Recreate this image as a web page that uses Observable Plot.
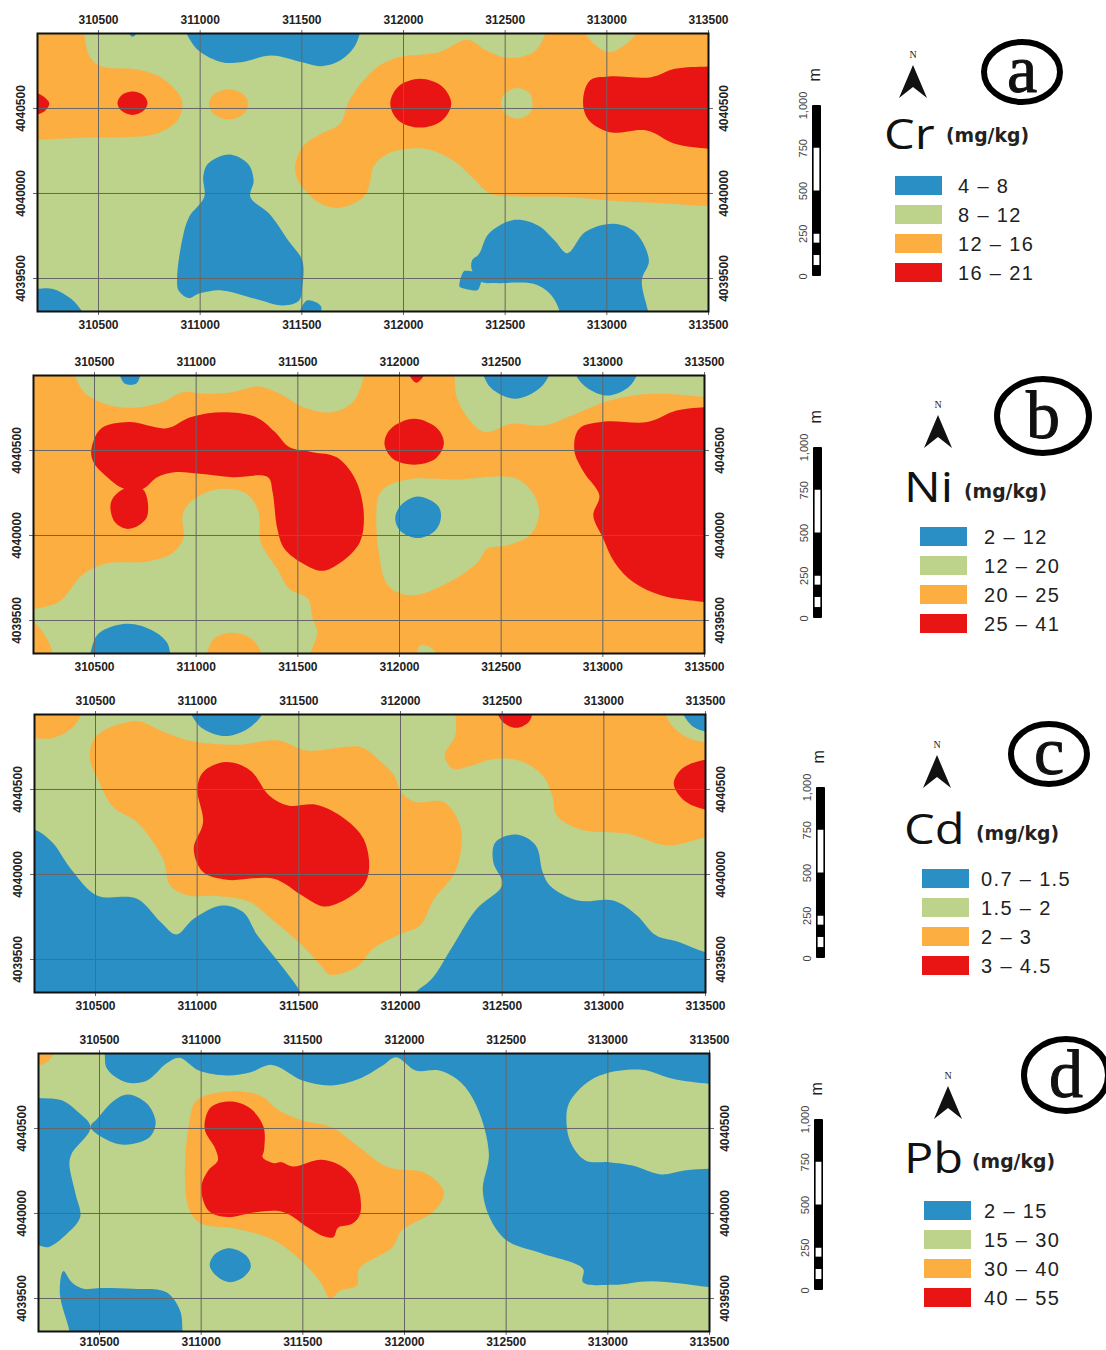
<!DOCTYPE html>
<html><head><meta charset="utf-8">
<script src="https://cdn.jsdelivr.net/npm/d3@7"></script>
<script src="https://cdn.jsdelivr.net/npm/@observablehq/plot@0.6"></script>
<style>
html,body{margin:0;padding:0;background:#fff}
#page{position:relative;width:1106px;height:1350px;overflow:hidden;font-family:"Liberation Sans",Arial,sans-serif}
#page>svg,#page>div{position:absolute}
.sw{position:absolute}
.lab{position:absolute;font-size:20px;letter-spacing:1.35px;color:#222;line-height:20px;white-space:nowrap}
.el{position:absolute;font-family:"Open Sans",sans-serif;font-size:42px;line-height:50px;color:#111;white-space:nowrap;transform:scaleX(1.16);transform-origin:0 0}
.un{position:absolute;font-family:"DejaVu Sans",sans-serif;font-weight:bold;font-size:18.8px;line-height:20px;color:#222;white-space:nowrap}
</style></head><body><div id="page"></div>
<script>
// Map coordinates: easting and northing, stored as metres past these origins
const E0 = 310000, N0 = 4039000;
const eastTicks = [310500, 311000, 311500, 312000, 312500, 313000, 313500];
const northTicks = [4039500, 4040000, 4040500];
const scaleTicks = [0, 250, 500, 750, 1000];
const classColors = ["#2a8fc4", "#bdd28a", "#fcae41", "#e91515"];
const BLUE = 0, GREEN = 1, ORANGE = 2, RED = 3;

const crClasses = ["4 – 8", "8 – 12", "12 – 16", "16 – 21"];
const niClasses = ["2 – 12", "12 – 20", "20 – 25", "25 – 41"];
const cdClasses = ["0.7 – 1.5", "1.5 – 2", "2 – 3", "3 – 4.5"];
const pbClasses = ["2 – 15", "15 – 30", "30 – 40", "40 – 55"];

const whole = [[0,0],[4000,0],[4000,2400],[0,2400]];

const crZones = [
 [GREEN, whole],
 [ORANGE, [[100,2000],[420,2000],[430,1930],[458,1802],[516,1747],[690,1729],[818,1674],[911,1547],[887,1429],[783,1351],[620,1331],[412,1328],[198,1316],[100,1310]]],
 [RED, [[140,1590],[200,1590],[240,1560],[258,1530],[240,1490],[200,1465],[140,1465]]],
 [RED, [[667,1600],[720,1580],[741,1531],[720,1485],[667,1462],[615,1485],[593,1531],[615,1580]]],
 [ORANGE, [[1140,1612],[1210,1585],[1237,1525],[1210,1465],[1140,1437],[1070,1465],[1043,1525],[1070,1585]]],
 [BLUE, [[920,2000],[934,1940],[992,1841],[1108,1772],[1200,1772],[1351,1812],[1502,1772],[1595,1749],[1688,1782],[1757,1860],[1785,1940],[1800,2000]]],
 [BLUE, [[650,1960],[690,1960],[675,1925],[660,1925]]],
 [ORANGE, [[2314,1904],[2407,1841],[2511,1798],[2639,1831],[2700,1950],[2700,2010],[2890,2010],[2890,1950],[3010,1831],[3150,1950],[3150,2010],[3600,2010],[3600,920],[3500,926],[3265,943],[3010,959],[2801,979],[2569,983],[2430,998],[2337,1096],[2245,1194],[2105,1263],[1920,1233],[1850,1155],[1834,1057],[1804,979],[1688,916],[1595,939],[1502,1037],[1467,1135],[1502,1273],[1595,1351],[1688,1410],[1734,1547],[1850,1723],[1966,1798],[2175,1831]]],
 [RED, [[3600,1750],[3500,1747],[3335,1733],[3219,1684],[3010,1688],[2917,1665],[2883,1547],[2906,1439],[3010,1361],[3196,1371],[3335,1292],[3500,1263],[3600,1260]]],
 [GREEN, [[2558,1620],[2620,1590],[2635,1530],[2620,1470],[2558,1440],[2500,1470],[2480,1530],[2500,1590]]],
 [RED, [[2082,1675],[2190,1630],[2235,1530],[2190,1430],[2082,1388],[1975,1430],[1935,1530],[1975,1630]]],
 [BLUE, [[1143,1230],[1235,1175],[1263,1077],[1247,979],[1340,881],[1433,724],[1502,606],[1502,449],[1486,371],[1409,342],[1270,381],[1108,430],[992,410],[945,385],[894,430],[887,508],[911,724],[945,861],[1020,979],[1015,1096],[1038,1175]]],
 [BLUE, [[1525,371],[1595,336],[1580,280],[1490,280]]],
 [BLUE, [[100,440],[198,440],[272,440],[365,381],[423,300],[440,250],[100,250]]],
 [BLUE, [[2372,645],[2419,763],[2546,845],[2662,812],[2743,724],[2806,649],[2894,773],[3033,822],[3138,773],[3207,606],[3172,489],[3203,306],[3210,250],[2760,250],[2767,306],[2720,410],[2639,469],[2453,473],[2384,479],[2337,547],[2337,606]]],
 [BLUE, [[2295,540],[2310,545],[2375,530],[2386,522],[2370,440],[2360,430],[2285,445],[2275,455]]]
];

const niZones = [
 [ORANGE, whole],
 [GREEN, [[390,2010],[403,1945],[449,1843],[553,1774],[692,1751],[831,1784],[936,1843],[1040,1833],[1179,1843],[1307,1876],[1411,1833],[1527,1755],[1666,1725],[1770,1784],[1828,1945],[1840,2010]]],
 [BLUE, [[610,2000],[623,1945],[651,1892],[704,1892],[727,1945],[740,2000]]],
 [RED, [[2045,1960],[2083,1898],[2125,1960]]],
 [GREEN, [[2255,2010],[2269,1945],[2280,1823],[2327,1706],[2419,1608],[2547,1657],[2709,1647],[2848,1706],[3034,1794],[3242,1833],[3500,1814],[3600,1800],[3600,2010]]],
 [BLUE, [[2400,2010],[2412,1945],[2454,1863],[2570,1804],[2686,1863],[2737,1945],[2750,2010]]],
 [BLUE, [[2855,2010],[2867,1945],[2918,1872],[3022,1823],[3126,1872],[3168,1945],[3180,2010]]],
 [RED, [[484,1500],[530,1627],[669,1667],[855,1631],[971,1696],[1133,1725],[1295,1696],[1388,1608],[1457,1520],[1573,1490],[1689,1461],[1782,1333],[1824,1137],[1805,961],[1712,843],[1620,792],[1527,834],[1434,922],[1399,1039],[1376,1255],[1353,1343],[1179,1343],[1017,1363],[901,1373],[808,1343],[739,1275],[646,1275],[553,1353],[495,1431]]],
 [RED, [[646,1275],[739,1270],[757,1108],[669,1039],[600,1079],[581,1196]]],
 [GREEN, [[1133,1275],[1249,1245],[1307,1137],[1318,961],[1399,804],[1457,687],[1550,628],[1573,510],[1596,432],[1562,304],[1560,250],[300,250],[294,304],[275,373],[200,491],[100,540],[322,608],[437,765],[553,834],[762,847],[878,892],[936,981],[936,1137],[1017,1235]]],
 [ORANGE, [[1040,250],[1052,304],[1087,393],[1179,428],[1272,393],[1323,304],[1330,250]]],
 [BLUE, [[470,250],[479,304],[519,422],[658,481],[785,442],[855,373],[873,304],[880,250]]],
 [GREEN, [[2070,250],[2083,304],[2106,357],[2171,324],[2180,250]]],
 [RED, [[2072,1686],[2188,1627],[2218,1539],[2176,1451],[2072,1416],[1967,1451],[1926,1539],[1956,1627]]],
 [GREEN, [[1944,1294],[2060,1333],[2269,1329],[2570,1337],[2663,1235],[2686,1118],[2640,1000],[2524,941],[2431,922],[2385,843],[2245,726],[2060,647],[1944,706],[1898,902],[1886,1118],[1898,1235]]],
 [BLUE, [[2090,1230],[2188,1177],[2204,1108],[2176,1030],[2090,985],[2002,1030],[1979,1108],[2014,1186]]],
 [RED, [[3600,1755],[3500,1755],[3362,1735],[3219,1667],[3010,1670],[2883,1627],[2860,1500],[2906,1373],[2983,1235],[2953,1118],[2999,990],[3057,843],[3149,726],[3289,647],[3500,608],[3600,590]]]
];

const cdZones = [
 [GREEN, whole],
 [ORANGE, [[100,2010],[430,2010],[430,1943],[379,1857],[287,1802],[198,1802],[100,1802]]],
 [BLUE, [[960,2010],[971,1943],[1029,1857],[1140,1814],[1249,1857],[1319,1943],[1330,2010]]],
 [ORANGE, [[704,1902],[820,1847],[959,1788],[1191,1763],[1400,1788],[1539,1729],[1806,1749],[1887,1680],[1969,1582],[2003,1484],[2073,1426],[2212,1426],[2293,1288],[2293,1112],[2259,994],[2166,857],[2096,700],[2003,651],[1864,563],[1795,465],[1655,410],[1609,465],[1516,583],[1377,726],[1261,837],[1099,873],[959,877],[867,936],[832,1092],[704,1308],[588,1396],[519,1543],[472,1690],[507,1818]]],
 [RED, [[1140,1661],[1261,1612],[1354,1465],[1447,1406],[1586,1410],[1725,1328],[1818,1210],[1846,1041],[1818,936],[1702,837],[1621,812],[1516,877],[1377,975],[1145,969],[1029,1014],[983,1151],[1029,1308],[1001,1504],[1029,1602]]],
 [ORANGE, [[2260,2010],[2270,1943],[2270,1818],[2217,1700],[2259,1622],[2351,1641],[2444,1676],[2583,1671],[2699,1582],[2746,1465],[2769,1347],[2885,1265],[3117,1239],[3314,1171],[3500,1220],[3600,1240],[3600,2010]]],
 [RED, [[2470,2010],[2479,1943],[2514,1886],[2572,1863],[2630,1896],[2648,1943],[2660,2010]]],
 [GREEN, [[3295,2010],[3303,1943],[3349,1857],[3420,1800],[3500,1778],[3600,1760],[3600,2010]]],
 [BLUE, [[3380,2010],[3391,1943],[3442,1867],[3500,1841],[3600,1830],[3600,2010]]],
 [RED, [[3600,1676],[3500,1676],[3384,1622],[3344,1533],[3395,1435],[3500,1382],[3600,1382]]],
 [BLUE, [[100,1265],[198,1265],[287,1190],[379,1033],[507,877],[704,857],[820,720],[897,647],[983,740],[1122,818],[1226,779],[1296,642],[1400,485],[1505,312],[1520,250],[100,250]]],
 [BLUE, [[2040,250],[2073,306],[2154,387],[2259,583],[2375,798],[2491,916],[2502,955],[2456,1073],[2467,1190],[2572,1235],[2665,1171],[2699,1014],[2734,936],[2873,847],[3047,847],[3163,759],[3256,642],[3372,602],[3500,544],[3600,530],[3600,250]]]
];

const pbZones = [
 [GREEN, whole],
 [ORANGE, [[100,2010],[300,2010],[250,1900],[198,1870],[100,1870]]],
 [BLUE, [[515,2010],[525,1943],[537,1851],[630,1772],[734,1782],[827,1880],[892,1916],[989,1841],[1128,1812],[1244,1831],[1348,1874],[1499,1782],[1638,1753],[1777,1792],[1893,1870],[1958,1919],[2055,1841],[2171,1841],[2276,1772],[2357,1625],[2415,1351],[2385,1135],[2426,959],[2507,838],[2681,763],[2878,675],[2878,596],[3029,581],[3214,602],[3500,567],[3600,550],[3600,2010]]],
 [GREEN, [[2983,1821],[3168,1845],[3319,1792],[3500,1763],[3600,1763],[3600,1263],[3500,1263],[3377,1253],[3261,1230],[3122,1282],[3006,1302],[2890,1312],[2820,1410],[2797,1527],[2808,1645],[2890,1763]]],
 [BLUE, [[100,1685],[201,1680],[317,1665],[386,1606],[456,1508],[363,1351],[352,1292],[382,1116],[405,979],[340,881],[247,802],[201,812],[100,812]]],
 [BLUE, [[456,1508],[491,1560],[572,1665],[641,1700],[734,1645],[776,1537],[746,1449],[641,1406],[560,1420]]],
 [BLUE, [[322,661],[305,528],[352,306],[352,250],[908,250],[908,306],[896,430],[827,538],[665,557],[491,561],[421,557],[363,596]]],
 [BLUE, [[1140,796],[1221,753],[1244,689],[1209,626],[1140,596],[1082,626],[1042,694],[1070,763]]],
 [ORANGE, [[1128,1718],[1290,1694],[1383,1606],[1499,1547],[1638,1508],[1777,1390],[1916,1273],[2102,1237],[2194,1126],[2148,1018],[1986,900],[1940,802],[1777,675],[1766,577],[1685,547],[1634,498],[1592,587],[1499,714],[1360,841],[1175,910],[1001,939],[943,1018],[920,1214],[943,1547],[977,1665]]],
 [RED, [[1151,1659],[1244,1616],[1307,1508],[1309,1371],[1302,1331],[1360,1296],[1395,1302],[1453,1277],[1592,1316],[1696,1273],[1766,1175],[1782,998],[1742,939],[1673,916],[1650,861],[1592,871],[1522,920],[1406,1008],[1267,1008],[1128,979],[1035,1018],[1001,1155],[1035,1253],[1082,1312],[1070,1380],[1017,1498],[1047,1625]]]
];

// Scale bar: white segments, in metres along the bar
const scaleWhite = [[500, 750], [195, 247], [64, 123]];

const page = document.getElementById("page");

// ---- layout of the four rows ----
const rows = [
 {zones: crZones, classes: crClasses, el: "Cr", letter: "a", fx: 37, fy: 33, botPad: 5,
  bar: [812, 105], north: [913, 65], elPos: [884, 108], unit: [946, 126], sw: [895, 176], lab: 958, ring: [1022, 72, 38, 30]},
 {zones: niZones, classes: niClasses, el: "Ni", letter: "b", fx: 32.5, fy: 375, botPad: 5,
  bar: [813, 447], north: [938, 415], elPos: [904, 461], unit: [964, 482], sw: [920, 527], lab: 984, ring: [1043, 416, 46, 37]},
 {zones: cdZones, classes: cdClasses, el: "Cd", letter: "c", fx: 34, fy: 714, botPad: 5,
  bar: [816, 787], north: [937, 755], elPos: [904, 803], unit: [976, 824], sw: [922, 869], lab: 981, ring: [1049, 754, 38, 30]},
 {zones: pbZones, classes: pbClasses, el: "Pb", letter: "d", fx: 38, fy: 1053, botPad: 2,
  bar: [814, 1119], north: [948, 1086], elPos: [904, 1132], unit: [972, 1152], sw: [924, 1201], lab: 984, ring: [1066, 1075, 42, 36]}
];

const flat = zones => zones.flatMap(([cls, pts], id) =>
  pts.map(([e, n]) => ({id, cls, e: E0 + e, n: N0 + n})));

const ML = 40, MT = 30, FW = 671, FH = 278;

function place(el, left, top) {
  el.style.position = "absolute";
  el.style.left = left + "px";
  el.style.top = top + "px";
  el.style.overflow = "visible";
  page.appendChild(el);
}

function mapPlot(r) {
  const ax = (a, pad) => Plot.axisX(eastTicks, {anchor: a, tickFormat: d => String(d), fontSize: 12, fill: "#222", stroke: "#666", tickSize: 4, tickPadding: pad, fontWeight: "bold", label: null});
  const ay = (a, pad) => Plot.axisY(northTicks, {anchor: a, tickRotate: -90, tickFormat: d => String(d), fontSize: 12, fill: "#222", stroke: "#666", tickSize: 4, tickPadding: pad, fontWeight: "bold", label: null});
  return Plot.plot({
    width: FW + 2 * ML, height: FH + 2 * MT,
    marginLeft: ML, marginRight: ML, marginTop: MT, marginBottom: MT,
    style: {background: "transparent", fontFamily: "Liberation Sans, Arial, sans-serif"},
    x: {domain: [E0 + 200, E0 + 3500]},
    y: {domain: [N0 + 306, N0 + 1941]},
    color: {type: "ordinal", domain: [BLUE, GREEN, ORANGE, RED], range: classColors},
    marks: [
      Plot.line(flat(r.zones), {x: "e", y: "n", z: "id", fill: "cls", stroke: "none", curve: "catmull-rom-closed", clip: true}),
      Plot.gridX(eastTicks, {stroke: "#666", strokeOpacity: 1}),
      Plot.gridY(northTicks, {stroke: "#666", strokeOpacity: 1}),
      ax("top", 6), ax("bottom", r.botPad), ay("left", 9), ay("right", 15),
      Plot.frame({stroke: "#111", strokeWidth: 2})
    ]
  });
}

function barPlot(r) {
  return Plot.plot({
    width: 60, height: 171 + 60,
    marginLeft: 30, marginRight: 21, marginTop: 50, marginBottom: 10,
    style: {background: "transparent", fontFamily: "Liberation Sans, Arial, sans-serif"},
    x: {domain: [0, 1], axis: null},
    y: {domain: [0, 1000]},
    marks: [
      Plot.rectY([0], {x1: 0, x2: 1, y1: 0, y2: 1000, fill: "#000", rx: 1}),
      Plot.rectY(scaleWhite, {x1: 0.18, x2: 0.82, y1: d => d[0], y2: d => d[1], fill: "#fff"}),
      Plot.axisY(scaleTicks, {anchor: "left", tickRotate: -90, tickSize: 0, tickPadding: 6, fontSize: 11, fill: "#444", tickFormat: d3.format(","), label: null}),
      Plot.text(["m"], {x: 0.3, y: 1180, text: d => d, rotate: -90, fontSize: 16, fill: "#222"})
    ]
  });
}

const deco = d3.create("svg").attr("width", 1106).attr("height", 1350)
  .style("left", "0").style("top", "0").style("pointer-events", "none");

rows.forEach(r => {
  place(mapPlot(r), r.fx - ML, r.fy - MT);
  place(barPlot(r), r.bar[0] - 30, r.bar[1] - 50);

  // North arrow
  const [nx, ny] = r.north;
  deco.append("text").attr("x", nx).attr("y", ny - 7).attr("text-anchor", "middle")
    .attr("font-family", "Liberation Serif, serif").attr("font-size", 10).attr("fill", "#222").text("N");
  deco.append("path").attr("d", `M${nx},${ny}L${nx + 14},${ny + 33}L${nx},${ny + 22}L${nx - 14},${ny + 33}Z`).attr("fill", "#111");

  // Panel letter in its ring
  const [cx, cy, rx, ry] = r.ring;
  deco.append("ellipse").attr("cx", cx).attr("cy", cy).attr("rx", rx).attr("ry", ry)
    .attr("fill", "#fff").attr("stroke", "#000").attr("stroke-width", 6);
  deco.append("text").attr("x", cx).attr("y", cy + (r.letter === "b" || r.letter === "d" ? 22 : 20)).attr("text-anchor", "middle")
    .attr("font-family", "Liberation Serif, serif").attr("font-size", 68).attr("fill", "#111")
    .attr("stroke", "#111").attr("stroke-width", 1).text(r.letter);

  // Title
  const el = document.createElement("div");
  el.className = "el"; el.textContent = r.el;
  el.style.left = r.elPos[0] + "px"; el.style.top = r.elPos[1] + "px";
  page.appendChild(el);
  const un = document.createElement("div");
  un.className = "un"; un.textContent = "(mg/kg)";
  un.style.left = r.unit[0] + "px"; un.style.top = r.unit[1] + "px";
  page.appendChild(un);

  // Legend
  r.classes.forEach((c, i) => {
    const y = r.sw[1] + i * 29;
    const s = document.createElement("div");
    s.className = "sw";
    s.style.cssText = `left:${r.sw[0]}px;top:${y}px;width:47px;height:19px;background:${classColors[i]}`;
    page.appendChild(s);
    const t = document.createElement("div");
    t.className = "lab"; t.textContent = c;
    t.style.left = r.lab + "px"; t.style.top = y + "px";
    page.appendChild(t);
  });
});
page.appendChild(deco.node());
</script></body></html>
